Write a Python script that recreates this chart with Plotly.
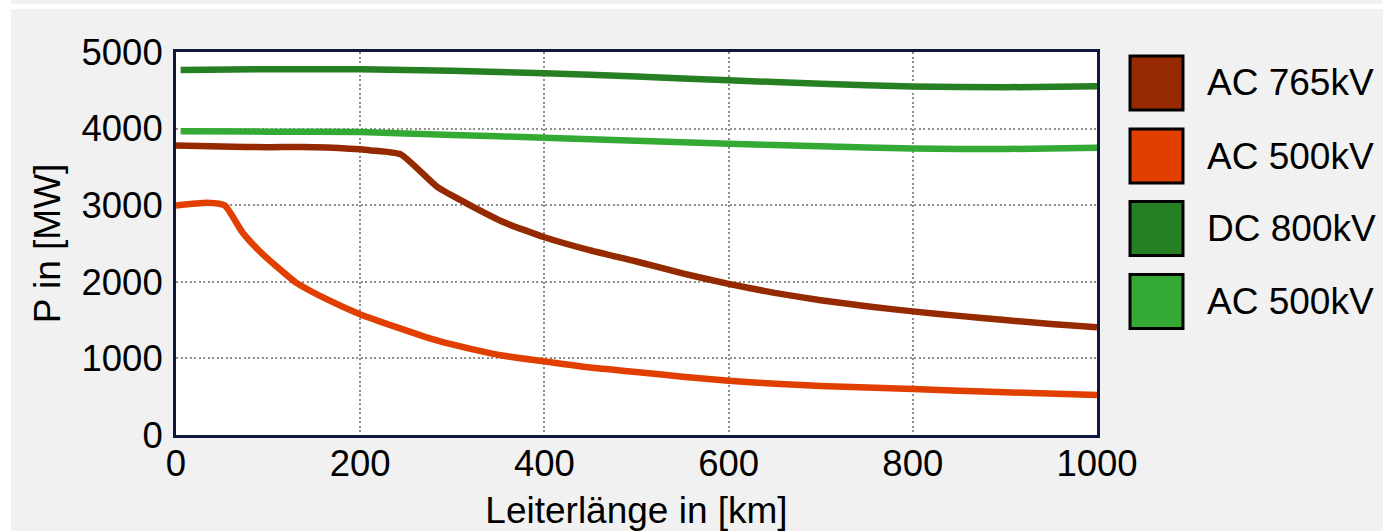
import plotly.graph_objects as go

# ---------------- data ----------------
series_names = ["AC 765kV", "AC 500kV", "DC 800kV", "AC 500kV"]
series_colors = ["#952a00", "#e03f00", "#267f22", "#34a934"]

x_ac765 = [0, 50, 100, 150, 200, 212, 244, 284, 320, 356, 400, 450, 500, 550,
           600, 650, 700, 750, 800, 850, 900, 950, 1000]
p_ac765 = [3780, 3765, 3758, 3758, 3730, 3715, 3663, 3235, 2996, 2778, 2582,
           2410, 2265, 2110, 1972, 1855, 1760, 1680, 1614, 1555, 1500, 1450, 1405]

x_ac500 = [0, 34, 53, 72, 90, 108, 130, 163, 199, 240, 284, 320, 356, 400,
           450, 505, 550, 600, 656, 700, 800, 900, 1000]
p_ac500 = [2996, 3031, 2996, 2647, 2408, 2212, 1993, 1776, 1580, 1405, 1231,
           1125, 1035, 961, 880, 817, 760, 708, 665, 640, 600, 558, 522]

x_dc800 = [5, 100, 200, 300, 400, 500, 600, 700, 800, 900, 1000]
p_dc800 = [4765, 4775, 4775, 4755, 4722, 4680, 4630, 4585, 4548, 4540, 4552]

x_ac500g = [5, 100, 200, 300, 400, 500, 600, 700, 800, 900, 1000]
p_ac500g = [3965, 3960, 3954, 3918, 3881, 3842, 3803, 3768, 3740, 3733, 3750]

x_ticks = [0, 200, 400, 600, 800, 1000]
y_ticks = [0, 1000, 2000, 3000, 4000, 5000]
x_title = "Leiterlänge in [km]"
y_title = "P in [MW]"

# ---------------- figure ----------------
W, H = 1383, 531
L, R, T, B = 176, 286, 52, 96
PW, PH = W - L - R, H - T - B


def px_x(px):
    return (px - L) / PW


def px_y(py):
    return (H - B - py) / PH


FONT = "Liberation Sans, Arial, sans-serif"
fig = go.Figure()

xs = [x_ac765, x_ac500, x_dc800, x_ac500g]
ps = [p_ac765, p_ac500, p_dc800, p_ac500g]
for name, col, x, p in zip(series_names, series_colors, xs, ps):
    fig.add_trace(go.Scatter(x=x, y=p, mode="lines", name=name,
                             line=dict(color=col, width=6.5, shape="spline",
                                       smoothing=0.5),
                             showlegend=False))

# white page strips around the grey panel
shapes = [
    dict(type="rect", xref="paper", yref="paper", layer="below",
         x0=px_x(-5), x1=px_x(11), y0=px_y(-5), y1=px_y(H + 5),
         line=dict(width=0), fillcolor="#ffffff"),
    dict(type="rect", xref="paper", yref="paper", layer="below",
         x0=px_x(-5), x1=px_x(W + 5), y0=px_y(4), y1=px_y(9),
         line=dict(width=0), fillcolor="#ffffff"),
]
annotations = []
sq_top = [56, 129, 201.5, 274.5]
for name, col, top in zip(series_names, series_colors, sq_top):
    shapes.append(dict(type="rect", xref="paper", yref="paper",
                       x0=px_x(1130), x1=px_x(1183),
                       y0=px_y(top), y1=px_y(top + 54),
                       line=dict(color="#000000", width=3), fillcolor=col))
    annotations.append(dict(xref="paper", yref="paper",
                            x=px_x(1205), y=px_y(top + 27),
                            xanchor="left", yanchor="middle",
                            text=name, showarrow=False,
                            font=dict(family=FONT, size=37, color="#000000")))

fig.update_layout(
    width=W, height=H,
    margin=dict(l=L, r=R, t=T, b=B, autoexpand=False),
    paper_bgcolor="#f1f1f1", plot_bgcolor="#ffffff",
    showlegend=False,
    shapes=shapes, annotations=annotations,
    font=dict(family=FONT, size=36, color="#000000"),
)
grid_kw = dict(showgrid=True, gridcolor="#8f8f8f", gridwidth=2,
               griddash="2px,2.5px", zeroline=False,
               showline=True, mirror=True, linecolor="#0d1a3d", linewidth=3,
               ticks="", ticklen=0,
               tickfont=dict(family=FONT, size=36.5, color="#000000"))
fig.update_xaxes(range=[0, 1000], tickvals=x_ticks,
                 ticktext=[str(v) for v in x_ticks], ticklabelstandoff=-6,
                 title=dict(text=x_title, standoff=22,
                            font=dict(family=FONT, size=37, color="#000000")),
                 **grid_kw)
fig.update_yaxes(range=[0, 5000], tickvals=y_ticks,
                 ticktext=[str(v) for v in y_ticks], ticklabelstandoff=3,
                 title=dict(text=y_title, standoff=10,
                            font=dict(family=FONT, size=37, color="#000000")),
                 **grid_kw)

fig.write_html("out.html", config={"displayModeBar": False},
               post_script="document.body.style.margin='0';")
